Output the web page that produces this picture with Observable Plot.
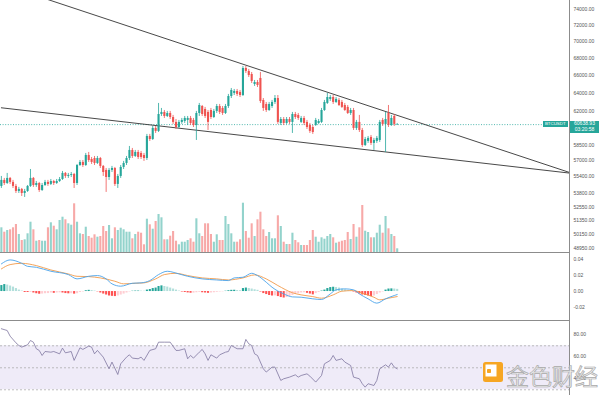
<!DOCTYPE html>
<html><head><meta charset="utf-8">
<script src="https://cdn.jsdelivr.net/npm/d3@7"></script>
<script src="https://cdn.jsdelivr.net/npm/@observablehq/plot@0.6"></script>
<style>
body{margin:0;background:#fff;}
#chart{position:relative;width:600px;height:395px;overflow:hidden;background:#fff;font-family:"Liberation Sans",Arial,sans-serif;}
#chart svg{position:absolute;left:0;}
.hline{position:absolute;left:0;width:569px;height:1px;background:#8c8c8c;}
.vline{position:absolute;left:569px;top:0;width:1px;height:395px;background:#8c8c8c;}
.tag{position:absolute;background:#26a69a;color:#fff;text-align:center;font-size:4.4px;line-height:6.4px;}
.pbox{position:absolute;background:#26a69a;color:#fff;text-align:center;font-size:5px;line-height:5.6px;padding-top:0.6px;}
#wm-icon{position:absolute;left:483px;top:362px;width:20px;height:20px;}
#wm-text{position:absolute;left:506px;top:358px;font-family:"Noto Sans CJK SC",sans-serif;font-size:23px;letter-spacing:0px;color:rgba(235,235,235,0.85);-webkit-text-stroke:0.7px #a8a8a8;white-space:nowrap;}
</style></head>
<body><div id="chart"></div>
<script>
// ---- data ----
const open = [54490,55060,54770,55250,54870,54490,54020,54210,53830,54020,
54490,55250,54580,54770,54110,54580,54870,54680,54960,54770,
54960,55150,55730,55440,55540,55630,54770,56500,56800,56500,
57490,57090,57190,56700,57190,56410,56020,55340,56020,56210,
54680,55440,56310,56700,57190,57990,57390,57790,57690,57490,
57190,59410,59100,60240,59930,61710,61930,61500,61820,61390,
60870,60340,60870,60970,61080,61290,61080,60550,61820,62570,
62250,61930,62140,61390,62040,62570,62360,61820,62570,63660,
64000,64220,64110,63770,66820,66480,66130,65000,65220,65680,
63230,62790,62140,62570,63010,63440,60760,61180,60760,61180,
60870,61710,61610,60870,61290,60870,60550,60340,60550,60760,
60870,62140,62900,63340,63550,63010,63230,63010,62680,62470,
61820,62140,60240,60870,60030,58490,58900,59310,58700,58900,
59000,61080,60660,61820,60550,61500,60600];
const high = [55440,55250,55730,55340,55060,54680,54400,54300,54210,54580,
56110,55340,54960,54870,54770,55060,55060,55150,55060,55150,
55340,55920,55820,55730,55820,55730,56600,56990,56990,57690,
57790,57290,57390,57390,57290,56500,56210,56210,56410,56310,
55630,56500,56900,57390,58390,58190,57990,57990,57890,57690,
59620,59620,60450,60450,62900,62360,62140,62040,62040,61610,
61180,61080,61290,61500,61500,61500,61290,62040,62900,62680,
62470,62140,62360,62250,62790,62790,62570,62790,63890,64550,
64440,64440,64330,67050,67050,66710,66360,65450,65450,66360,
63440,63010,63010,63230,63770,63770,61390,61390,61390,61390,
61930,61930,61820,61500,61500,61080,60760,60550,61290,61180,
62360,63230,64000,63770,63770,63550,63440,63230,62900,62680,
62360,62360,61080,61610,60240,59310,59410,59510,59210,59410,
61080,61290,61930,62680,61610,61710,60760];
const low = [54300,54580,54680,54680,54300,53830,53830,53550,53460,53930,
54400,54400,54400,53930,54020,54490,54490,54580,54580,54680,
54870,55060,55250,55250,55340,54300,54580,56410,56310,56410,
56800,56600,56500,56600,56210,55440,53930,55060,55820,54490,
54300,55250,56110,56500,56990,57190,57290,57090,57090,56900,
56990,58900,59000,59720,59820,61500,61290,61390,61180,60660,
60130,60240,60660,60760,60550,60550,60340,59000,61500,61500,
61290,60030,61180,61290,61820,61710,61610,61710,62360,63440,
63770,63660,63550,63660,66250,65790,65110,64780,64660,62900,
62040,61930,62040,62360,62790,60660,60550,60550,60660,60660,
59720,61180,61080,60760,60550,60130,59720,59620,60450,60660,
60760,62040,62790,63120,62790,62900,62570,62360,62040,61710,
61610,60030,60030,59820,58290,58390,58700,58490,57990,58700,
58800,60450,57790,60340,60450,60450,60550];
const close = [55060,54770,55250,54870,54490,54020,54210,53830,54020,54490,
55250,54580,54770,54110,54580,54870,54680,54960,54770,54960,
55150,55730,55440,55540,55630,54770,56500,56800,56500,57490,
56990,56800,56700,57190,56410,55820,55340,56020,56210,54680,
55440,56310,56700,57190,57990,57390,57790,57290,57290,57190,
59410,59100,60240,59930,61710,61930,61500,61820,61390,60870,
60340,60870,61080,61290,61290,60760,60550,61820,62680,61710,
61500,60870,61390,62040,62570,61930,61820,62570,63660,64330,
64220,63890,63770,66820,66480,66020,65340,65220,64890,63120,
62360,62140,62790,63010,63440,60870,61180,60760,61180,60870,
61710,61390,61290,61290,60760,60340,59930,59820,61080,60970,
62140,63010,63550,63550,63010,63340,62680,62470,62140,61820,
62140,60240,60870,60030,58490,59100,59210,58700,59000,59210,
60870,60660,61180,60550,61290,60660,60638.93];
const vol = [24.7,20.3,22,22.7,24.7,28,18,12,12.7,18.7,
30.3,22.7,11.3,12,11.3,11.3,24.7,29.7,26.3,22.7,
32,35.3,32.7,28.7,27.3,48.7,30.3,18.7,18,25.3,
16,14.3,17.7,15.3,16,26,21,27,13.7,24.7,
22,24.3,22.7,20.3,20.3,13.7,18,20.3,19.3,7.7,
33.3,27.7,23.3,31,38,34.7,12.7,12.7,16.3,21,
11.3,7.7,10.3,10.3,12,13.7,10.3,33.7,18.7,16,
28.7,28.7,18,10.3,17.7,12,12,36,28,18.7,
10.3,10.3,12.7,49.3,21,14.3,28.7,16,32.7,40.3,
22.7,16,20,13.7,13.7,36.7,26,10.3,8,8,
19.3,12,9.7,7,7,7,12,22,15.3,10.3,
14.7,13.3,16,18,14.7,9.3,10.3,11.3,12,20,
13,28,15.3,24.7,47,21.3,20,14.7,14.7,19.3,
27.3,19.3,36,23.7,18,16,3.7];
const hist = [0.0074,0.0086,0.0080,0.0068,0.0055,0.0037,0.0018,0.0006,-0.0012,-0.0012,
-0.0010,-0.0018,-0.0027,-0.0033,-0.0031,-0.0027,-0.0025,-0.0018,-0.0022,-0.0018,
-0.0016,-0.0018,-0.0025,-0.0028,-0.0027,-0.0032,-0.0027,-0.0012,-0.0006,0.0010,
0.0015,0.0012,0.0006,-0.0004,-0.0018,-0.0031,-0.0043,-0.0055,-0.0059,-0.0062,
-0.0055,-0.0043,-0.0031,-0.0018,-0.0006,0.0004,0.0006,0.0006,0.0005,0.0004,
0.0018,0.0025,0.0037,0.0043,0.0062,0.0070,0.0062,0.0055,0.0043,0.0031,
0.0018,0.0006,-0.0006,-0.0012,-0.0017,-0.0021,-0.0020,-0.0015,-0.0010,-0.0015,
-0.0018,-0.0022,-0.0018,-0.0015,-0.0010,-0.0006,-0.0004,0.0004,0.0010,0.0015,
0.0016,0.0012,0.0010,0.0037,0.0043,0.0037,0.0031,0.0022,0.0015,-0.0006,
-0.0025,-0.0037,-0.0049,-0.0055,-0.0053,-0.0062,-0.0074,-0.0080,-0.0074,-0.0062,
-0.0049,-0.0037,-0.0027,-0.0018,-0.0015,-0.0022,-0.0031,-0.0041,-0.0025,-0.0012,
0.0006,0.0018,0.0037,0.0049,0.0053,0.0049,0.0043,0.0031,0.0022,0.0012,
0.0006,-0.0006,-0.0018,-0.0031,-0.0043,-0.0049,-0.0055,-0.0062,-0.0055,-0.0037,
-0.0018,-0.0006,0.0018,0.0031,0.0033,0.0031,0.0027];
const difIdx = [0,3,7,9,12,17,23,26,30,33,36,38,41,45,48,51,54,57,61,64,69,74,78,80,83,86,88,91,93,97,100,103,107,110,113,115,118,121,123,126,129,132,135,136];
const dif = [0.0341,0.0390,0.0348,0.0311,0.0299,0.0250,0.0209,0.0156,0.0188,0.0197,0.0156,0.0095,0.0066,0.0102,0.0107,0.0135,0.0209,0.0250,0.0217,0.0188,0.0156,0.0143,0.0135,0.0168,0.0176,0.0225,0.0197,0.0115,0.0053,-0.0029,-0.0066,-0.0070,-0.0090,-0.0098,-0.0029,0.0021,0.0033,0.0021,-0.0029,-0.0090,-0.0143,-0.0090,-0.0049,-0.0037];
const deaIdx = [0,3,7,12,17,23,26,30,34,39,42,46,49,53,56,60,64,69,74,78,83,87,91,95,100,103,107,110,114,117,121,124,128,130,133,136];
const dea = [0.0279,0.0332,0.0348,0.0320,0.0266,0.0217,0.0188,0.0184,0.0168,0.0127,0.0095,0.0102,0.0107,0.0156,0.0209,0.0225,0.0197,0.0168,0.0156,0.0143,0.0168,0.0205,0.0156,0.0074,-0.0015,-0.0041,-0.0062,-0.0082,-0.0041,0.0004,0.0012,-0.0021,-0.0070,-0.0102,-0.0082,-0.0062];
const rsiIdx = [0,2,3,5,6,7,9,10,11,12,13,14,15,17,18,20,21,22,24,25,27,28,30,31,32,33,35,37,38,40,41,43,44,45,47,48,49,51,53,54,56,58,60,61,63,64,65,66,68,69,70,71,72,74,75,77,78,79,81,83,84,85,86,87,88,90,91,93,94,96,97,99,101,102,103,105,106,108,110,111,113,114,115,117,118,120,121,123,124,125,126,128,129,130,132,133,134,135,136];
const rsi = [85.5,83.9,78.8,72.7,70.3,68.8,70.9,74.8,73.3,67.3,65.8,61.2,64.8,64.2,64.8,62.7,67.9,63.6,64.8,56.7,68.2,66.7,69.7,68.8,62.7,65.8,59.7,49.1,55.2,43.9,53.6,59.7,61.8,58.8,58.2,59.7,56.7,65.8,67.3,73.3,73.3,73.3,65.8,65.8,67.3,58.2,61.2,58.8,64.2,66.7,62.7,56.7,61.8,58.8,61.8,64.2,64.8,70.3,67.3,67.3,75.8,71.8,70.3,62.7,61.2,49.1,46.1,50.6,50.6,38.5,40,41.5,43.6,41.5,43,44.5,42.4,37,43,53.6,56.7,61.2,56.7,58.2,55.2,52.1,41.5,40,35.5,32.4,35.5,33.9,38.5,49.1,52.7,50.6,54.5,50.6,49.1];
const upperLineIdx = [0, 196.2];
const upperLinePrice = [77320, 55730];
const lowerLineIdx = [0, 196.2];
const lowerLinePrice = [62430, 55730];
const priceTicks = [74000,72000,70000,68000,66000,64000,62000,58500,57000,55400,53800,52550,51350,50150,48950];
const macdTicks = [0.04,0.02,0,-0.02];
const rsiTicks = [80,60,40];
const rsiLevels = [70,50,30];
const rsiBand = [30,70];
const symbol = "BTCUSDT";
const lastPrice = 60638.93;
const countdown = "03:20:58";
const watermark = "金色财经";

// ---- build ----
const teal = "#26a69a", red = "#ef5350", tealV = "#93d3cc", redV = "#f7a9a8";
const candles = d3.range(close.length).map(i => ({i, o: open[i], h: high[i], l: low[i], c: close[i], v: vol[i], m: hist[i], pm: i ? hist[i-1] : hist[i]}));
const up = d => d.c >= d.o;
const xDom = [-0.3, 195.2];
const base = {
  width: 600, marginLeft: 0, marginRight: 31, marginTop: 0, marginBottom: 0,
  x: {domain: xDom, axis: null},
  color: {type: "identity"},
  style: {background: "transparent", fontSize: "5px", fontFamily: "Liberation Sans, Arial, sans-serif", color: "#555", overflow: "visible"}
};
const chart = document.getElementById("chart");
function place(svg, top) { svg.style.top = top + "px"; chart.appendChild(svg); return svg; }

// RSI panel
const rsiPts = rsiIdx.map((i, k) => ({i, v: rsi[k]}));
const rsiPlot = Plot.plot({...base, height: 75,
  y: {domain: [24.8, 93], axis: "right", ticks: rsiTicks, tickFormat: d => d.toFixed(2), tickSize: 0, tickPadding: 4, label: null},
  marks: [
    Plot.rect([rsiBand], {x1: () => xDom[0], x2: () => xDom[1], y1: d => d[0], y2: d => d[1], fill: "#efebf8"}),
    Plot.ruleY(rsiLevels, {stroke: "#a3a3a3", strokeDasharray: "2,2", strokeWidth: 0.7}),
    Plot.line(rsiPts, {x: "i", y: "v", stroke: "#7f76a0", strokeWidth: 0.8})
  ]});
place(rsiPlot, 320);

// MACD panel
const difPts = difIdx.map((i, k) => ({i, v: dif[k]}));
const deaPts = deaIdx.map((i, k) => ({i, v: dea[k]}));
const histColor = d => d.m >= 0 ? (d.m >= d.pm ? "#26a69a" : "#b2dfdb") : (d.m <= d.pm ? "#ff5252" : "#ffcdd2");
const macdPlot = Plot.plot({...base, height: 67,
  y: {domain: [-0.0357, 0.0469], axis: "right", ticks: macdTicks, tickFormat: d => d.toFixed(2), tickSize: 0, tickPadding: 4, label: null},
  marks: [
    Plot.ruleX(candles, {x: "i", y1: 0, y2: "m", stroke: histColor, strokeWidth: 2.1}),
    Plot.line(deaPts, {x: "i", y: "v", stroke: "#f29a4a", strokeWidth: 0.9, curve: "monotone-x"}),
    Plot.line(difPts, {x: "i", y: "v", stroke: "#4aa3ea", strokeWidth: 0.9, curve: "monotone-x"})
  ]});
place(macdPlot, 253);

// Volume
const volPlot = Plot.plot({...base, height: 60,
  y: {domain: [0, 60], axis: null},
  marks: [Plot.ruleX(candles, {x: "i", y1: 0, y2: "v", stroke: d => up(d) ? tealV : redV, strokeWidth: 2.1})]});
place(volPlot, 192);

// Price
const upper = upperLineIdx.map((i, k) => ({i, p: upperLinePrice[k]}));
const lower = lowerLineIdx.map((i, k) => ({i, p: lowerLinePrice[k]}));
const pricePlot = Plot.plot({...base, height: 253,
  y: {type: "log", domain: [48522, 75160], axis: "right", ticks: priceTicks, tickFormat: d => d.toFixed(2), tickSize: 0, tickPadding: 4, label: null},
  marks: [
    Plot.ruleY([lastPrice], {stroke: teal, strokeDasharray: "1,1.6", strokeWidth: 0.8}),
    Plot.line(upper, {x: "i", y: "p", stroke: "#333", strokeWidth: 0.9, clip: true}),
    Plot.line(lower, {x: "i", y: "p", stroke: "#333", strokeWidth: 0.9, clip: true}),
    Plot.ruleX(candles, {x: "i", y1: "l", y2: "h", stroke: d => up(d) ? teal : red, strokeWidth: 0.8}),
    Plot.ruleX(candles, {x: "i", y1: "o", y2: "c", stroke: d => up(d) ? teal : red, strokeWidth: 2.1})
  ]});
place(pricePlot, 0);

// dividers
[252, 320].forEach(t => { const d = document.createElement("div"); d.className = "hline"; d.style.top = t + "px"; chart.appendChild(d); });
const v = document.createElement("div"); v.className = "vline"; chart.appendChild(v);

// last price labels (positioned through Plot's y scale)
const yl = pricePlot.scale("y").apply(lastPrice);
const tag = document.createElement("div"); tag.className = "tag"; tag.textContent = symbol;
Object.assign(tag.style, {left: "543px", width: "24.5px", top: (yl - 3.2) + "px", height: "6.4px"});
chart.appendChild(tag);
const pb = document.createElement("div"); pb.className = "pbox";
pb.innerHTML = lastPrice.toFixed(2) + "<br>" + countdown;
Object.assign(pb.style, {left: "570px", width: "29px", top: (yl - 3.6) + "px", height: "11.4px"});
chart.appendChild(pb);

// watermark
const icon = document.createElement("div"); icon.id = "wm-icon";
icon.innerHTML = '<svg width="20" height="20" viewBox="0 0 20 20"><rect x="0" y="0" width="20" height="20" rx="2.5" fill="#f6a623"/><rect x="2.5" y="2.5" width="11" height="12" fill="#fff"/><rect x="4" y="7" width="4" height="4" rx="0.8" fill="#f6a623"/></svg>';
chart.appendChild(icon);
const wt = document.createElement("div"); wt.id = "wm-text"; wt.textContent = watermark; chart.appendChild(wt);
</script></body></html>
